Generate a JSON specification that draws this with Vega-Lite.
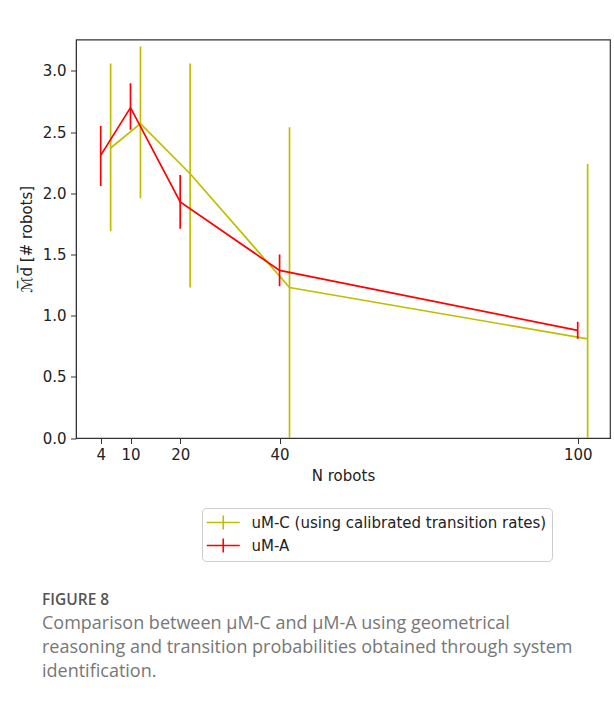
{
  "$schema": "https://vega.github.io/schema/vega-lite/v6.json",
  "width": 534,
  "height": 398.5,
  "autosize": {"type": "none"},
  "padding": {"left": 76, "top": 39.5, "right": 4, "bottom": 266},
  "background": "white",
  "title": {
    "text": "FIGURE 8",
    "subtitle": [
      "Comparison between μM-C and μM-A using geometrical",
      "reasoning and transition probabilities obtained through system",
      "identification."
    ],
    "orient": "bottom",
    "anchor": "start",
    "frame": "group",
    "dx": -34,
    "offset": 31,
    "font": "Open Sans",
    "fontSize": 15.5,
    "fontWeight": 600,
    "color": "#555555",
    "subtitleFont": "Open Sans",
    "subtitleFontSize": 18,
    "subtitleColor": "#777777",
    "subtitleLineHeight": 24,
    "subtitlePadding": 7
  },
  "config": {
    "font": "DejaVu Sans",
    "view": {"stroke": "#333333", "strokeWidth": 1.2},
    "axis": {
      "grid": false,
      "domainColor": "#333333",
      "tickColor": "#333333",
      "tickSize": 5.5,
      "labelFont": "DejaVu Sans",
      "labelFontSize": 15,
      "labelColor": "#222222",
      "titleFont": "DejaVu Sans",
      "titleFontSize": 15,
      "titleFontWeight": "normal",
      "titleColor": "#222222"
    },
    "legend": {
      "orient": "none",
      "legendX": 126,
      "legendY": 468.5,
      "title": null,
      "symbolType": "M-2,0H2M0,-0.85V0.85",
      "symbolSize": 272,
      "symbolOffset": 6.75,
      "symbolStrokeWidth": 1.6,
      "symbolFillColor": "transparent",
      "labelFont": "DejaVu Sans",
      "labelFontSize": 15,
      "labelColor": "#222222",
      "labelOffset": 18.75,
      "labelLimit": 0,
      "rowPadding": 2,
      "padding": 5,
      "strokeColor": "#cccccc",
      "fillColor": "white",
      "cornerRadius": 4
    }
  },
  "data": {
    "values": [
      {"series": "uM-C (using calibrated transition rates)", "robots": 4, "x": 6, "mean": 2.37, "lo": 1.69, "hi": 3.06},
      {"series": "uM-C (using calibrated transition rates)", "robots": 10, "x": 12, "mean": 2.57, "lo": 1.96, "hi": 3.2},
      {"series": "uM-C (using calibrated transition rates)", "robots": 20, "x": 22, "mean": 2.16, "lo": 1.23, "hi": 3.06},
      {"series": "uM-C (using calibrated transition rates)", "robots": 40, "x": 42, "mean": 1.23, "lo": -0.08, "hi": 2.54},
      {"series": "uM-C (using calibrated transition rates)", "robots": 100, "x": 102, "mean": 0.81, "lo": -0.62, "hi": 2.24},
      {"series": "uM-A", "robots": 4, "x": 4, "mean": 2.31, "lo": 2.06, "hi": 2.55},
      {"series": "uM-A", "robots": 10, "x": 10, "mean": 2.7, "lo": 2.52, "hi": 2.9},
      {"series": "uM-A", "robots": 20, "x": 20, "mean": 1.93, "lo": 1.71, "hi": 2.15},
      {"series": "uM-A", "robots": 40, "x": 40, "mean": 1.37, "lo": 1.24, "hi": 1.5},
      {"series": "uM-A", "robots": 100, "x": 100, "mean": 0.88, "lo": 0.81, "hi": 0.95}
    ]
  },
  "encoding": {
    "x": {
      "field": "x",
      "type": "quantitative",
      "scale": {"domain": [-0.97, 106.5], "nice": false, "zero": false},
      "axis": {"values": [4, 10, 20, 40, 100], "title": "N robots", "labelPadding": 4, "titlePadding": 6, "labelFlush": false}
    },
    "color": {
      "field": "series",
      "type": "nominal",
      "scale": {
        "domain": ["uM-C (using calibrated transition rates)", "uM-A"],
        "range": ["#bfbf00", "#ff0000"]
      }
    }
  },
  "layer": [
    {
      "transform": [{"filter": "datum.series !== 'uM-A'"}],
      "mark": {"type": "rule", "strokeWidth": 1.7, "clip": true},
      "encoding": {
        "y": {
          "field": "lo",
          "type": "quantitative",
          "scale": {"domain": [0, 3.257], "nice": false},
          "axis": {"values": [0, 0.5, 1, 1.5, 2, 2.5, 3], "format": ".1f", "title": "ℳ̅d̅   [# robots]", "labelPadding": 4.5, "titlePadding": 8}
        },
        "y2": {"field": "hi"}
      }
    },
    {
      "transform": [{"filter": "datum.series !== 'uM-A'"}],
      "mark": {"type": "line", "strokeWidth": 1.7, "clip": true},
      "encoding": {"y": {"field": "mean", "type": "quantitative"}}
    },
    {
      "transform": [{"filter": "datum.series === 'uM-A'"}],
      "mark": {"type": "rule", "strokeWidth": 1.7, "clip": true},
      "encoding": {"y": {"field": "lo", "type": "quantitative"}, "y2": {"field": "hi"}}
    },
    {
      "transform": [{"filter": "datum.series === 'uM-A'"}],
      "mark": {"type": "line", "strokeWidth": 1.7, "clip": true},
      "encoding": {"y": {"field": "mean", "type": "quantitative"}}
    }
  ]
}
